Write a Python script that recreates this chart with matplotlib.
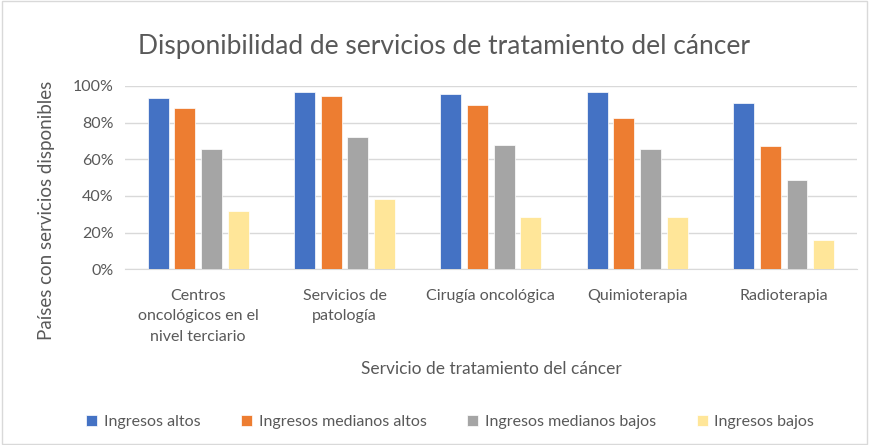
import matplotlib.pyplot as plt
import matplotlib.patches as pch
import numpy as np

servicios = ["Centros\noncológicos en el\nnivel terciario", "Servicios de\npatología",
             "Cirugía oncológica", "Quimioterapia", "Radioterapia"]
ingresos_altos = [93.6, 96.9, 95.5, 96.9, 90.7]
ingresos_medianos_altos = [87.7, 94.7, 89.7, 82.6, 67.0]
ingresos_medianos_bajos = [65.5, 72.2, 67.7, 65.5, 48.6]
ingresos_bajos = [31.8, 38.5, 28.5, 28.5, 16.0]

series = [("Ingresos altos", ingresos_altos, "#4472C4"),
          ("Ingresos medianos altos", ingresos_medianos_altos, "#ED7D31"),
          ("Ingresos medianos bajos", ingresos_medianos_bajos, "#A5A5A5"),
          ("Ingresos bajos", ingresos_bajos, "#FFE699")]

plt.rcParams['font.family'] = ['Lato', 'DejaVu Sans']
gris = "#595959"

fig = plt.figure(figsize=(8.69, 4.45), dpi=100)
ax = fig.add_axes([0.1438, 0.395, 0.8422, 0.412])

x = np.arange(len(servicios))
paso = 0.182
ancho = 0.143
for i, (nombre, valores, color) in enumerate(series):
    ax.bar(x + (i - 1.5) * paso, valores, ancho, color=color, label=nombre,
           edgecolor="white", linewidth=0.5, zorder=3)

ax.set_xlim(-0.5, len(servicios) - 0.5)
ax.set_ylim(0, 100)
ax.set_yticks(np.arange(0, 101, 20))
ax.set_yticklabels([f"{v}%" for v in range(0, 101, 20)])
ax.set_xticks(x)
ax.set_xticklabels(servicios, linespacing=1.6)
ax.tick_params(axis="both", length=0, colors=gris, labelsize=11.5)
ax.tick_params(axis="x", pad=14)
ax.tick_params(axis="y", pad=8)
ax.grid(axis="y", color="#D9D9D9", linewidth=1, zorder=0)
for s in ["top", "right", "left"]:
    ax.spines[s].set_visible(False)
ax.spines["bottom"].set_color("#D9D9D9")

ax.set_xlabel("Servicio de tratamiento del cáncer", color=gris, fontsize=12.5, labelpad=12)
ax.set_ylabel("Países con servicios disponibles", color=gris, fontsize=13.5)
ax.yaxis.set_label_coords(-0.095, 0.323)
fig.text(0.511, 0.895, "Disponibilidad de servicios de tratamiento del cáncer",
         ha="center", va="center", fontsize=19, color=gris)

fig.legend(loc="center", bbox_to_anchor=(0.518, 0.052), ncol=4, frameon=False,
           fontsize=11.5, labelcolor=gris, handlelength=0.7, handleheight=0.7,
           columnspacing=2.55, handletextpad=0.4)

fig.add_artist(pch.Rectangle((0.002, 0.002), 0.996, 0.996, transform=fig.transFigure,
                             fill=False, edgecolor="#D9D9D9", linewidth=1))

fig.savefig("out.png", dpi=100)
